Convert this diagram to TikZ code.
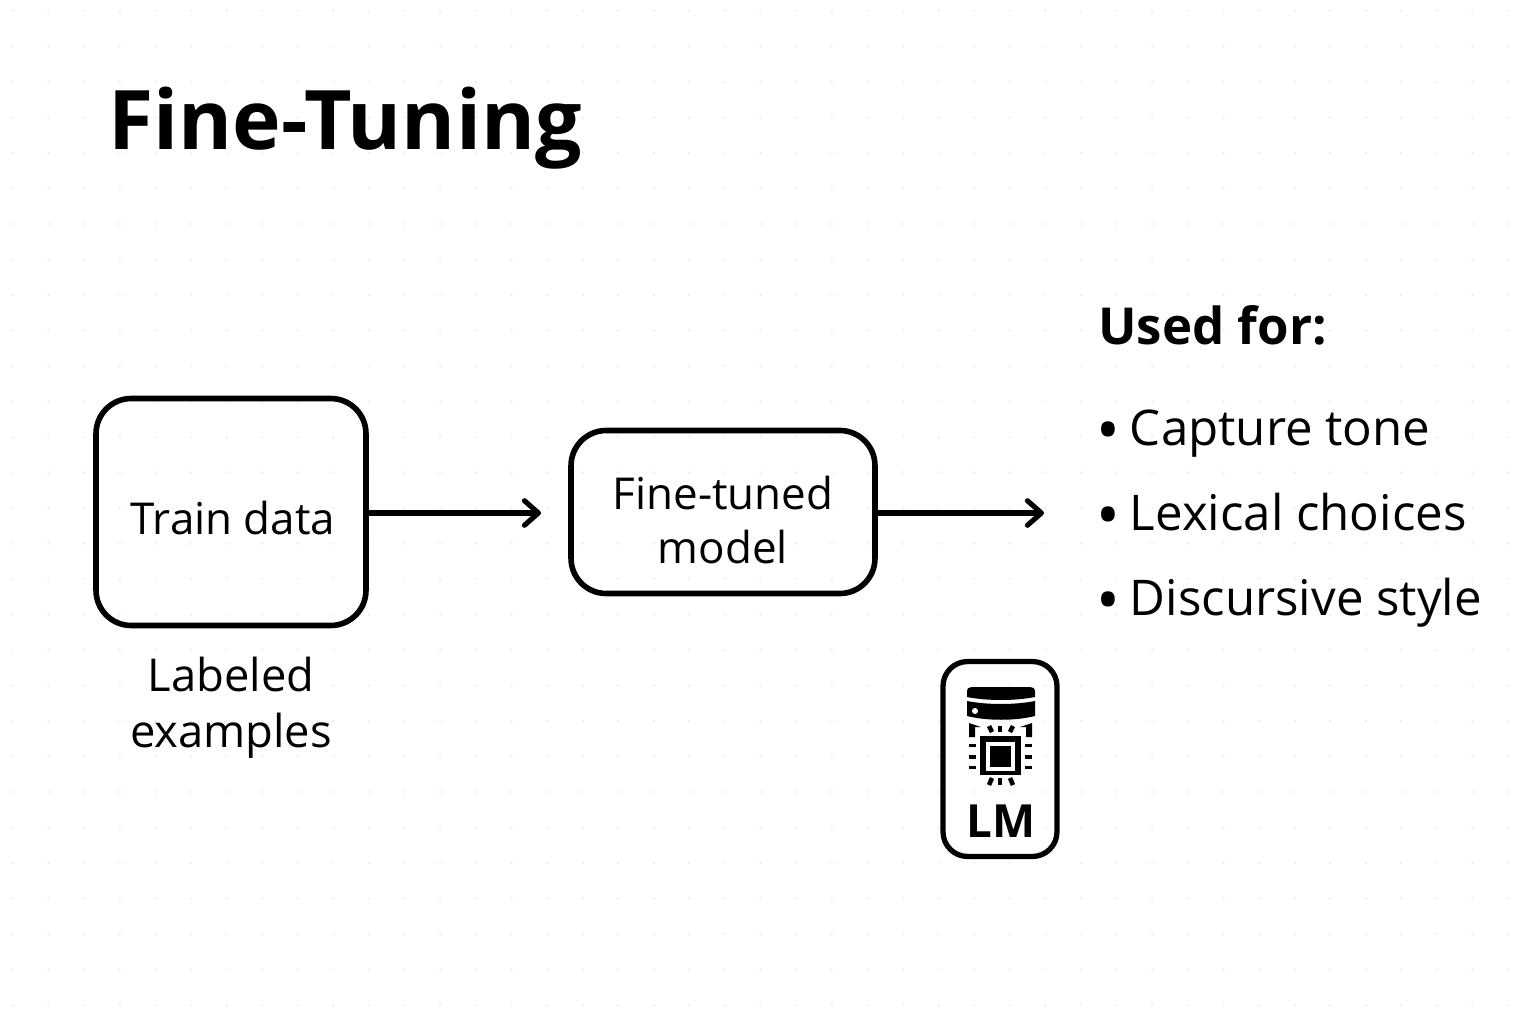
\documentclass[tikz,border=0pt]{standalone}
\usepackage{fontspec}
\setmainfont{Open Sans}
\usetikzlibrary{arrows.meta}
\definecolor{griddot}{RGB}{236,240,246}
\newcommand{\bigdot}{\raisebox{-4pt}{\fontsize{36}{32}\selectfont•}\hspace{5.6pt}}
\tikzset{every node/.style={inner sep=0pt,align=center,text=black}}
\tikzset{box/.style = {draw,line width=3.2pt,rounded corners=20pt}}
\tikzset{lab/.style = {font=\fontsize{25}{31}\selectfont}}
\tikzset{note/.style = {font=\fontsize{25.8}{32}\selectfont}}
\tikzset{item/.style = {anchor=base west,font=\fontsize{28}{32}\selectfont}}
\tikzset{flow/.style = {line width=2.9pt,-{Straight Barb[length=8pt,width=14pt,line width=2.9pt,round]}}}

\begin{document}
\begin{tikzpicture}[x=0.02cm,y=-0.02cm]
      \useasboundingbox (0,0) rectangle (1536,1024);
      \foreach \i in {0,...,42}
        \foreach \j in {0,...,28}
          \fill[griddot] (13+35.6*\i,11+35.5*\j) circle (1.5);

      \node[anchor=base west,font=\fontsize{46.8}{60}\selectfont\bfseries] (title) at (108,150) {Fine-Tuning};

      \node[box,minimum width=5.4cm,minimum height=4.54cm] (train) at (231,512) {};
      \node[lab] (traintext) at (233,518) {Train data};
      \node[note] (labeled) at (231,708) {Labeled\\examples};
      \node[box,minimum width=6.08cm,minimum height=3.26cm] (model) at (723,512) {};
      \node[lab] (modeltext) at (723,520) {Fine-tuned\\model};

      \coordinate (end1) at (541,513);
      \coordinate (end2) at (1044,513);
      \draw[flow] (train.east |- end1) -- (end1);
      \draw[flow] (model.east |- end2) -- (end2);

      \node[anchor=base west,font=\fontsize{29}{32}\selectfont\bfseries] (used) at (1098,344) {Used for:};
      \node[item] (i1) at (1096,445) {\bigdot Capture tone};
      \node[item] (i2) at (1096,530) {\bigdot Lexical choices};
      \node[item] (i3) at (1096,615) {\bigdot Discursive style};

      % LM icon
      \node[box,line width=3pt,rounded corners=14pt,minimum width=2.28cm,minimum height=3.9cm] (lm) at (1000,759) {};
      \node[font=\fontsize{26}{32}\selectfont\bfseries] (lmtext) at (1001,821) {LM};
      \fill (967,697) -- (967,692) .. controls (967,688) and (969,687) .. (972,687) -- (1030,687) .. controls (1033,687) and (1035,688) .. (1035,692) -- (1035,697) .. controls (1015,701) and (987,701) .. (967,697) -- cycle;
      \fill (967,701) .. controls (987,705) and (1015,705) .. (1035,701) -- (1035,716) .. controls (1015,721) and (987,721) .. (967,716) -- cycle;
      \fill[white] (975,711) circle (3);
      \fill (980,736) rectangle (1021,775);
      \fill[white] (986,742) rectangle (1015,771);
      \fill (990,746) rectangle (1011,767);
      \foreach \a/\b/\c/\d in {969/744/976/747,969/755/976/759,969/766/976/769,1025/744/1032/747,1025/755/1032/759,1025/766/1032/769}
        \fill (\a,\b) rectangle (\c,\d);
      % corner brackets
      \fill (969,723) -- (981,727) -- (975,727) -- (975,737) -- (969,737) -- cycle;
      \fill (1032,723) -- (1020,727) -- (1026,727) -- (1026,737) -- (1032,737) -- cycle;
      % slanted ticks
      \foreach \a/\b/\c/\d in {989/726/992/732,1000/726/1000/732,1013/726/1010/732,989/785/992/778,1000/785/1000/778,1013/785/1010/778}
        \draw[line width=2.6pt] (\a,\b) -- (\c,\d);
\end{tikzpicture}
\end{document}
